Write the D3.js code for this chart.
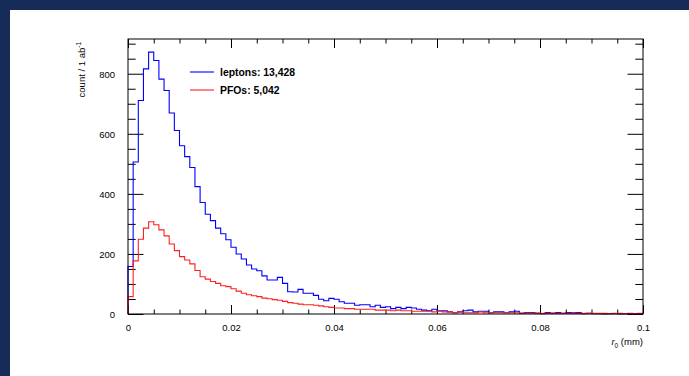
<!DOCTYPE html>
<html>
<head>
<meta charset="utf-8">
<script src="https://cdn.jsdelivr.net/npm/d3@7"></script>
<style>
  body { margin: 0; background: #172b59; }
  svg { display: block; }
</style>
</head>
<body>
<div id="chart"></div>
<script>
// histogram binning: 100 bins over r0 in [0, 0.1] mm
const xMin = 0, xMax = 0.1, nBins = 100;

const leptons = [
  158, 506, 711, 816, 872, 844, 782, 744, 669, 611,
  560, 524, 488, 424, 371, 332, 311, 286, 267, 247,
  222, 200, 183, 163, 150, 144, 127, 113, 113, 122,
  102, 74, 73, 82, 69, 69, 62, 49, 44, 52,
  49, 41, 36, 36, 29, 31, 31, 24, 29, 22,
  24, 18, 22, 18, 22, 20, 16, 13, 11, 16,
  11, 11, 7, 4, 7, 11, 13, 7, 9, 9,
  4, 7, 7, 4, 7, 9, 2, 5, 5, 2,
  1, 5, 2, 5, 2, 5, 4, 5, 1, 2,
  1, 1, 0, 1, 1, 0, 1, 0, 1, 0
];

const pfos = [
  58, 177, 249, 286, 307, 297, 280, 260, 233, 211,
  191, 180, 167, 145, 124, 116, 108, 102, 94, 91,
  84, 76, 69, 64, 61, 58, 53, 51, 48, 46,
  42, 38, 36, 33, 31, 31, 29, 27, 24, 22,
  20, 20, 18, 18, 16, 16, 16, 16, 13, 13,
  13, 11, 13, 11, 11, 9, 9, 9, 9, 7,
  9, 7, 7, 4, 7, 4, 4, 4, 7, 4,
  4, 4, 4, 4, 4, 4, 3, 3, 3, 3,
  2, 2, 3, 2, 2, 2, 2, 2, 2, 2,
  2, 2, 2, 1, 2, 2, 1, 2, 1, 2
];

const seriesLabels = ['leptons: 13,428', 'PFOs: 5,042'];
const seriesColors = ['#0000ff', '#ff2020'];
const xTicks = [0, 0.02, 0.04, 0.06, 0.08, 0.1];
const yTicks = [0, 200, 400, 600, 800];

const width = 689, height = 376;
const font = '"Liberation Sans", Arial, Helvetica, sans-serif';

const svg = d3.select('#chart')
    .append('svg')
    .attr('width', width)
    .attr('height', height);

svg.append('rect')
    .attr('width', width).attr('height', height)
    .attr('fill', '#172b59');
svg.append('rect')
    .attr('x', 10).attr('y', 10)
    .attr('width', width - 10).attr('height', height - 10)
    .attr('fill', '#ffffff');

const frame = {left: 128, right: 643, top: 39, bottom: 314};

const x = d3.scaleLinear().domain([xMin, xMax]).range([frame.left, frame.right]);
const y = d3.scaleLinear().domain([0, d3.max(leptons) * 1.05]).range([frame.bottom, frame.top]);

const binWidth = (xMax - xMin) / nBins;

function stepPoints(values) {
  const pts = [[xMin, 0]];
  values.forEach((v, i) => {
    pts.push([xMin + i * binWidth, v]);
    pts.push([xMin + (i + 1) * binWidth, v]);
  });
  pts.push([xMax, 0]);
  return pts;
}

const line = d3.line()
    .x(d => x(d[0]))
    .y(d => y(d[1]));

// axes: major + minor ticks on all four sides, pointing inward
const minorX = d3.range(0, 0.1001, 0.005).filter(v => Math.round(v * 1000) % 20 !== 0);
const minorY = d3.range(0, 901, 50).filter(v => v % 200 !== 0);

function tickAxis(axis, translate, values, size, labels) {
  const g = svg.append('g')
      .attr('transform', translate)
      .call(axis.tickValues(values).tickSizeInner(-size).tickSizeOuter(0).tickPadding(labels ? 0 : 0)
          .tickFormat(labels ? labels : () => ''));
  g.select('.domain').remove();
  g.selectAll('.tick line').attr('stroke', '#000').attr('stroke-width', 1);
  return g;
}

// bottom
const xb = tickAxis(d3.axisBottom(x), `translate(0,${frame.bottom})`, xTicks, 9, d => d3.format('')(+d.toFixed(2)));
xb.selectAll('.tick text')
    .attr('y', 17).attr('dy', 0)
    .attr('font-family', font).attr('font-size', 9.5).attr('fill', '#000');
tickAxis(d3.axisBottom(x), `translate(0,${frame.bottom})`, minorX, 4.5, null);
// top
tickAxis(d3.axisTop(x), `translate(0,${frame.top})`, xTicks, 9, null);
tickAxis(d3.axisTop(x), `translate(0,${frame.top})`, minorX, 4.5, null);
// left
const yl = tickAxis(d3.axisLeft(y), `translate(${frame.left},0)`, yTicks, 15.5, d => d);
yl.selectAll('.tick text')
    .attr('x', -13).attr('dy', '0.35em')
    .attr('font-family', font).attr('font-size', 9.5).attr('fill', '#000');
tickAxis(d3.axisLeft(y), `translate(${frame.left},0)`, minorY, 7.7, null);
// right
tickAxis(d3.axisRight(y), `translate(${frame.right},0)`, yTicks, 15.5, null);
tickAxis(d3.axisRight(y), `translate(${frame.right},0)`, minorY, 7.7, null);

// histograms
[leptons, pfos].forEach((vals, i) => {
  svg.append('path')
      .attr('d', line(stepPoints(vals)))
      .attr('fill', 'none')
      .attr('stroke', seriesColors[i])
      .attr('stroke-width', 1.1);
});

// frame
svg.append('rect')
    .attr('x', frame.left).attr('y', frame.top)
    .attr('width', frame.right - frame.left)
    .attr('height', frame.bottom - frame.top)
    .attr('fill', 'none')
    .attr('stroke', '#000')
    .attr('stroke-width', 1);

// legend
const legend = svg.append('g').attr('transform', 'translate(190,72)');
seriesLabels.forEach((label, i) => {
  const row = legend.append('g').attr('transform', `translate(0,${i * 18})`);
  row.append('line')
      .attr('x1', 0).attr('x2', 24)
      .attr('stroke', seriesColors[i])
      .attr('stroke-width', 1.1);
  row.append('text')
      .attr('x', 30).attr('dy', '0.35em')
      .attr('font-family', font).attr('font-size', 10.4).attr('font-weight', 'bold')
      .text(label);
});

// axis titles
const xt = svg.append('text')
    .attr('x', frame.right).attr('y', 345)
    .attr('text-anchor', 'end')
    .attr('font-family', font).attr('font-size', 9.5);
xt.append('tspan').attr('font-style', 'italic').text('r');
xt.append('tspan').attr('font-size', 6.5).attr('dy', 2.5).text('0');
xt.append('tspan').attr('dy', -2.5).text(' (mm)');

const yt = svg.append('text')
    .attr('transform', 'translate(85,42) rotate(-90)')
    .attr('text-anchor', 'end')
    .attr('font-family', font).attr('font-size', 9.5);
yt.append('tspan').text('count / 1 ab');
yt.append('tspan').attr('font-size', 6.5).attr('dy', -4).text('-1');
</script>
</body>
</html>
